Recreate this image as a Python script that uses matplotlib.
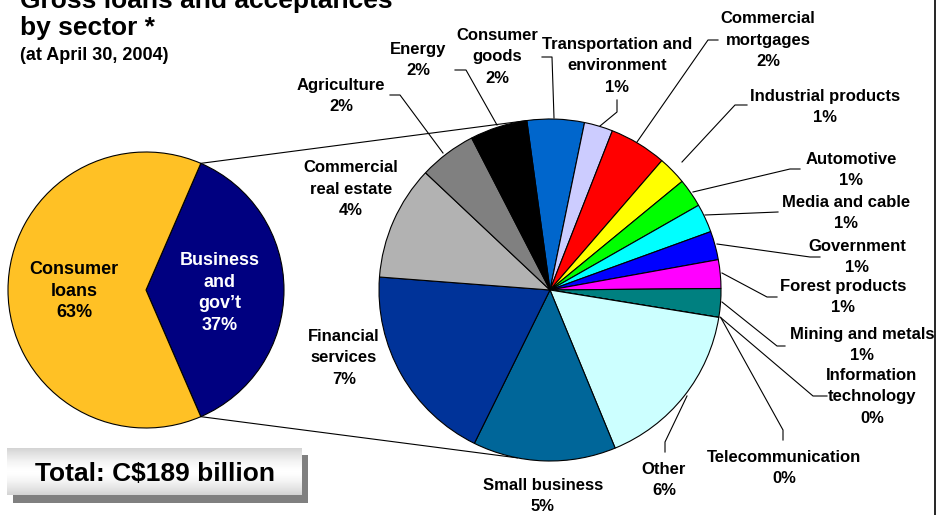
import numpy as np
import matplotlib
matplotlib.use("Agg")
import matplotlib.pyplot as plt
from matplotlib.patches import Rectangle

plt.rcParams['font.family'] = ['Liberation Sans', 'DejaVu Sans']

# ---- data -------------------------------------------------------------
overview_labels = ["Business\nand\ngov\u2019t", "Consumer\nloans"]
overview_values = [37, 63]
overview_colors = ["#000080", "#FFC125"]

sector_labels = [
    "Consumer\ngoods", "Transportation and\nenvironment", "Commercial\nmortgages",
    "Industrial products", "Automotive", "Media and cable", "Government",
    "Forest products", "Mining and metals", "Information\ntechnology",
    "Telecommunication", "Other", "Small business", "Financial\nservices",
    "Commercial\nreal estate", "Agriculture", "Energy",
]
sector_values = [2, 1, 2, 1, 1, 1, 1, 1, 1, 0, 0, 6, 5, 7, 4, 2, 2]
sector_colors = [
    "#0066CC", "#CCCCFF", "#FF0000", "#FFFF00", "#00FF00", "#00FFFF", "#0000FF",
    "#FF00FF", "#008080", "#800000", "#808000", "#CCFFFF", "#006699", "#003399",
    "#B2B2B2", "#808080", "#000000",
]
total_text = "Total: C$189 billion"

# ---- canvas in pixel units (y measured downward from top) -------------
W, H = 937, 515
fig = plt.figure(figsize=(W / 100, H / 100), dpi=100)
ax = fig.add_axes([0, 0, 1, 1])


def Y(y):
    return H - y


# left overview pie
lc, lr = (146, Y(290)), 138
l_start = -overview_values[0] / sum(overview_values) * 360 / 2
ax.pie(overview_values, colors=overview_colors, center=lc, radius=lr,
       startangle=l_start, counterclock=True,
       wedgeprops=dict(edgecolor="black", linewidth=0.8))

# right sector pie
rc, rr = (550, Y(290)), 171
r_start = 97.8
ax.pie(sector_values, colors=sector_colors, center=rc, radius=rr,
       startangle=r_start, counterclock=False,
       wedgeprops=dict(edgecolor="black", linewidth=0.8))

# connectors between the two pies
def on_circle(c, r, ang):
    a = np.radians(ang)
    return c[0] + r * np.cos(a), c[1] + r * np.sin(a)

for la, ra in [(-l_start, r_start), (l_start, -101.0)]:
    p1 = on_circle(lc, lr, la)
    p2 = on_circle(rc, rr, ra)
    ax.plot([p1[0], p2[0]], [p1[1], p2[1]], color="black", lw=0.8, zorder=0.5)

# overview labels
ax.text(74, Y(291), f"{overview_labels[1]}\n{overview_values[1]}%", ha="center",
        va="center", fontsize=13, fontweight="bold", color="black", linespacing=1.38)
ax.text(220, Y(293), f"{overview_labels[0]}\n{overview_values[0]}%", ha="center",
        va="center", fontsize=13, fontweight="bold", color="white", linespacing=1.38)

# sector label positions (label centre) and leader paths
label_pos = [
    (497, 57), (617, 66), (768, 40), (825, 107), (851, 170), (846, 213),
    (857, 257), (843, 297), (862, 345), (872, 397), (784, 468), (664, 480),
    (543, 496), (344, 358), (351, 189), (341, 96), (418, 60),
]
leaders = {
    0: [(542, 57), (552, 57), (554, 118)],
    1: [(617, 100), (617, 112), (600, 126)],
    2: [(718, 40), (708, 40), (637, 142)],
    3: [(747, 105), (735, 105), (682, 162)],
    4: [(800, 169), (790, 169), (693, 192)],
    5: [(778, 212), (705, 215)],
    6: [(820, 257), (810, 257), (717, 244)],
    7: [(777, 297), (767, 297), (722, 273)],
    8: [(785, 346), (777, 346), (722, 302)],
    9: [(827, 396), (813, 396), (720, 317)],
    10: [(783, 440), (783, 430), (721, 318)],
    11: [(665, 452), (665, 442), (687, 396)],
    15: [(390, 95), (400, 95), (443, 153)],
    16: [(455, 70), (466, 70), (497, 125)],
}
for i, path in leaders.items():
    xs = [p[0] for p in path]
    ys = [Y(p[1]) for p in path]
    ax.plot(xs, ys, color="black", lw=0.8, zorder=0.5)

for name, val, (x, y) in zip(sector_labels, sector_values, label_pos):
    ax.text(x, Y(y), f"{name}\n{val}%", ha="center", va="center", fontsize=12,
            fontweight="bold", color="black", linespacing=1.58)

# titles
ax.text(20, Y(8), "Gross loans and acceptances", ha="left", va="baseline",
        fontsize=19, fontweight="bold")
ax.text(20, Y(35), "by sector *", ha="left", va="baseline",
        fontsize=19, fontweight="bold")
ax.text(20, Y(60), "(at April 30, 2004)", ha="left", va="baseline",
        fontsize=13, fontweight="bold")

# total box with drop shadow and soft vertical gradient
ax.add_patch(Rectangle((13, Y(503)), 295, 48, facecolor="#808080",
                       edgecolor="none", zorder=2))
grad = 1 - 0.17 * np.abs(np.linspace(-1, 1, 64)) ** 1.5
ax.imshow(grad[:, None], cmap="gray", vmin=0, vmax=1, aspect="auto",
          extent=(7, 302, Y(495), Y(448)), zorder=3, interpolation="bicubic")
ax.text(155, Y(474), total_text, ha="center", va="center", fontsize=19,
        fontweight="bold", zorder=4)

# right frame edge
ax.plot([935.5, 935.5], [0, H], color="black", lw=1.2)

ax.set_xlim(0, W)
ax.set_ylim(0, H)
ax.set_aspect("equal")
ax.axis("off")

fig.savefig("out.png", dpi=100, facecolor="white")
